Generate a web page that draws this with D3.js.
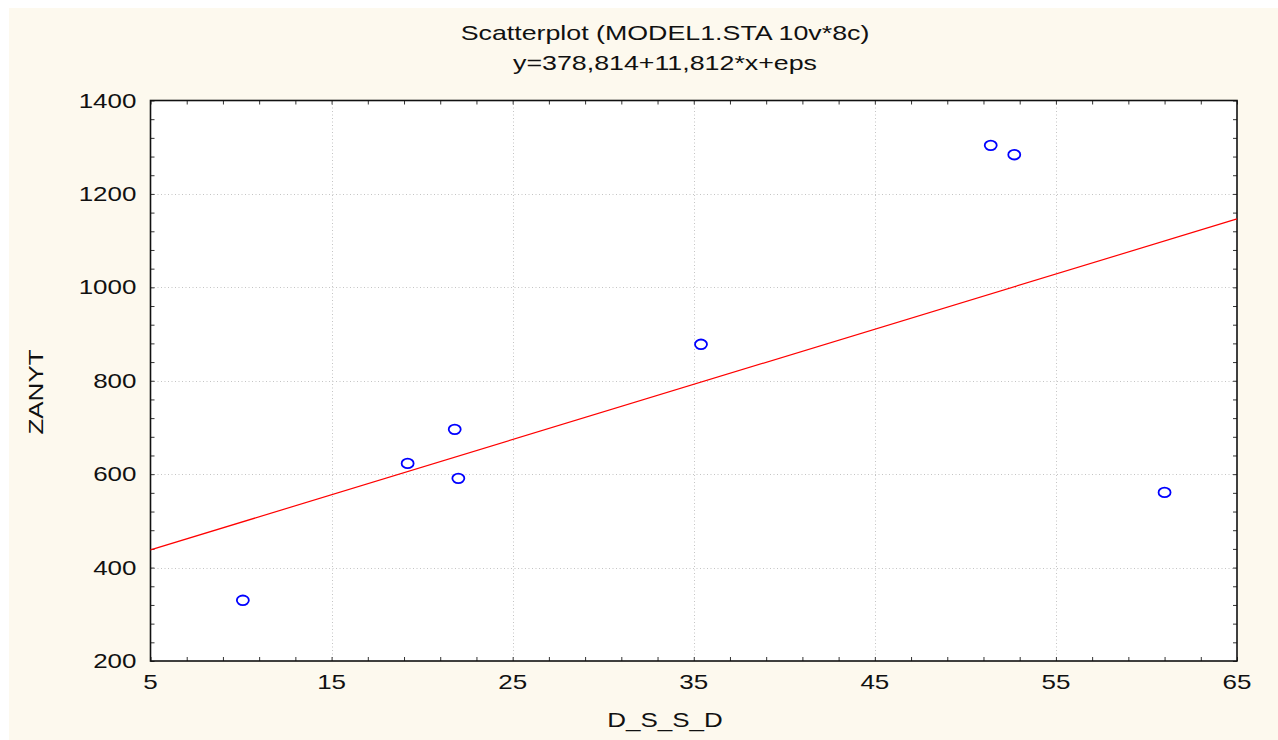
<!DOCTYPE html>
<html>
<head>
<meta charset="utf-8">
<script src="https://cdn.jsdelivr.net/npm/d3@7"></script>
<style>
  html, body { margin: 0; padding: 0; background: #ffffff; }
  svg { display: block; }
  text { font-family: "Liberation Sans", Arial, sans-serif; fill: #111; }
</style>
</head>
<body>
<svg id="chart" width="1278" height="740"></svg>
<script>
// ---- Data ----
const xValues = [10.1, 19.2, 21.8, 22.0, 35.4, 51.4, 52.7, 61.0];
const yValues = [330, 623, 696, 591, 878, 1304, 1284, 561];
const xTicks = [5, 15, 25, 35, 45, 55, 65];
const yTicks = [200, 400, 600, 800, 1000, 1200, 1400];
const fitIntercept = 378.814;
const fitSlope = 11.812;
const titleLines = ["Scatterplot (MODEL1.STA 10v*8c)", "y=378,814+11,812*x+eps"];
const xLabel = "D_S_S_D";
const yLabel = "ZANYT";

// ---- Layout ----
const svg = d3.select("#chart");
const W = 1278, H = 740;
const plot = { left: 150.5, right: 1237, top: 100.5, bottom: 661 };
const sx = 1.3;   // horizontal stretch of tick/axis text
const sxT = 1.34; // horizontal stretch of title text

svg.append("rect").attr("x", 9).attr("y", 8).attr("width", W - 9).attr("height", H - 8)
  .attr("fill", "#fdf9ee");

const x = d3.scaleLinear().domain([5, 65]).range([plot.left, plot.right]);
const y = d3.scaleLinear().domain([200, 1400]).range([plot.bottom, plot.top]);

svg.append("rect").attr("x", plot.left).attr("y", plot.top)
  .attr("width", plot.right - plot.left).attr("height", plot.bottom - plot.top)
  .attr("fill", "#ffffff");

// Grid
const grid = svg.append("g");
grid.selectAll("line.gx").data(xTicks.slice(1, -1)).join("line")
  .attr("x1", d => Math.round(x(d)) + 0.5).attr("x2", d => Math.round(x(d)) + 0.5)
  .attr("y1", plot.top).attr("y2", plot.bottom)
  .attr("stroke", "#c4c4c4").attr("stroke-width", 1).attr("stroke-dasharray", "1,2.5");
grid.selectAll("line.gy").data(yTicks.slice(1, -1)).join("line")
  .attr("y1", d => Math.round(y(d)) + 0.5).attr("y2", d => Math.round(y(d)) + 0.5)
  .attr("x1", plot.left).attr("x2", plot.right)
  .attr("stroke", "#c4c4c4").attr("stroke-width", 1).attr("stroke-dasharray", "1,2.5");

// Minor tick values
const xMinor = d3.range(5, 65.001, 2);
const yMinor = d3.range(200, 1400.001, 40);

function styleAxis(g) {
  g.select(".domain").remove();
  g.selectAll(".tick line").attr("stroke", "#333").attr("stroke-width", 1);
  g.selectAll(".tick text").remove();
}
svg.append("g").attr("transform", `translate(0,${plot.bottom})`)
  .call(d3.axisBottom(x).tickValues(xMinor).tickSize(-4)).call(styleAxis);
svg.append("g").attr("transform", `translate(0,${plot.top})`)
  .call(d3.axisTop(x).tickValues(xMinor).tickSize(-4)).call(styleAxis);
svg.append("g").attr("transform", `translate(${plot.left},0)`)
  .call(d3.axisLeft(y).tickValues(yMinor).tickSize(-4)).call(styleAxis);
svg.append("g").attr("transform", `translate(${plot.right},0)`)
  .call(d3.axisRight(y).tickValues(yMinor).tickSize(-4)).call(styleAxis);

// Frame
svg.append("rect").attr("x", plot.left).attr("y", plot.top)
  .attr("width", plot.right - plot.left).attr("height", plot.bottom - plot.top)
  .attr("fill", "none").attr("stroke", "#111").attr("stroke-width", 1.6);

// Tick labels
svg.append("g").selectAll("text").data(xTicks).join("text")
  .attr("transform", d => `translate(${x(d)},${plot.bottom + 28}) scale(${sx},1)`)
  .attr("text-anchor", "middle").attr("font-size", 20).text(d => d);
svg.append("g").selectAll("text").data(yTicks).join("text")
  .attr("transform", d => `translate(${plot.left - 14},${y(d) + 7}) scale(${sx},1)`)
  .attr("text-anchor", "end").attr("font-size", 20).text(d => d);

// Regression line
const lineX = x.domain();
svg.append("line")
  .attr("x1", x(lineX[0])).attr("y1", y(fitIntercept + fitSlope * lineX[0]))
  .attr("x2", x(lineX[1])).attr("y2", y(fitIntercept + fitSlope * lineX[1]))
  .attr("stroke", "#ff0000").attr("stroke-width", 1.2);

// Points
svg.append("g").selectAll("ellipse").data(xValues.map((v, i) => [v, yValues[i]])).join("ellipse")
  .attr("cx", d => x(d[0])).attr("cy", d => y(d[1]))
  .attr("rx", 6).attr("ry", 4.8)
  .attr("fill", "none").attr("stroke", "#0000ff").attr("stroke-width", 1.8);

// Titles
svg.append("g").selectAll("text").data(titleLines).join("text")
  .attr("transform", (d, i) => `translate(665,${40 + i * 30}) scale(${sxT},1)`)
  .attr("text-anchor", "middle").attr("font-size", 20).text(d => d);

svg.append("text")
  .attr("transform", `translate(665,727) scale(${sx},1)`)
  .attr("text-anchor", "middle").attr("font-size", 20).text(xLabel);
svg.append("text")
  .attr("transform", `translate(43,392) rotate(-90) scale(${sx},1)`)
  .attr("text-anchor", "middle").attr("font-size", 20).text(yLabel);
</script>
</body>
</html>
